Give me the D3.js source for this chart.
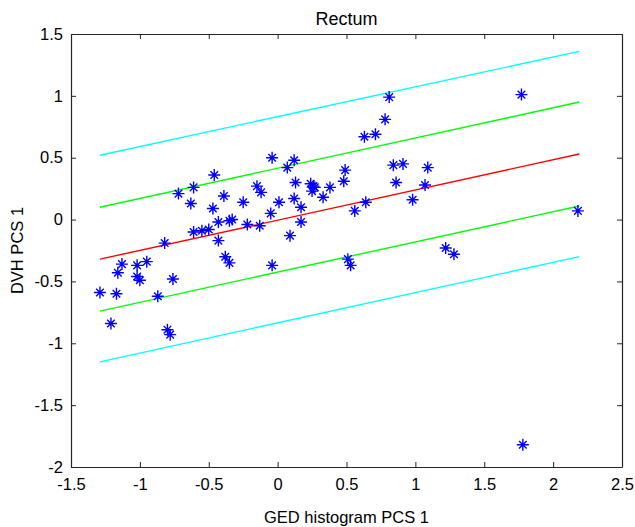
<!DOCTYPE html>
<html>
<head>
<meta charset="utf-8">
<script src="https://cdn.jsdelivr.net/npm/d3@7"></script>
<style>
  html, body { margin: 0; padding: 0; background: #fff; }
  svg { display: block; }
  text { font-family: "Liberation Sans", Arial, Helvetica, sans-serif; fill: #000; }
</style>
</head>
<body>
<svg id="chart" width="635" height="527"></svg>
<script>
// ---- Data ----
const title = "Rectum";
const xLabel = "GED histogram PCS 1";
const yLabel = "DVH PCS 1";
const xTicks = [-1.5, -1, -0.5, 0, 0.5, 1, 1.5, 2, 2.5];
const yTicks = [-2, -1.5, -1, -0.5, 0, 0.5, 1, 1.5];
const xDomain = [-1.5, 2.5];
const yDomain = [-2, 1.5];

const pointsX = [-1.29,-1.21,-1.17,-1.16,-1.13,-1.02,-1.02,-1.00,-0.95,-0.87,-0.82,-0.80,-0.78,-0.76,
  -0.72,-0.63,-0.61,-0.61,-0.55,-0.50,-0.47,-0.46,-0.43,-0.43,-0.39,-0.38,-0.35,-0.35,-0.33,-0.25,
  -0.22,-0.15,-0.12,-0.13,-0.05,-0.04,-0.04,0.01,0.07,0.09,0.12,0.12,0.13,0.17,0.17,0.24,0.26,0.25,
  0.27,0.33,0.38,0.48,0.49,0.51,0.53,0.56,0.63,0.64,0.71,0.78,0.81,0.84,0.86,0.91,0.98,1.07,1.09,
  1.22,1.28,1.77,1.78,2.18];
const pointsY = [-0.59,-0.84,-0.60,-0.43,-0.36,-0.37,-0.46,-0.49,-0.34,-0.62,-0.19,-0.89,-0.93,-0.48,
  0.21,0.13,0.26,-0.10,-0.09,-0.08,0.09,0.36,-0.02,-0.17,0.19,-0.30,-0.35,-0.01,0.00,0.14,
  -0.04,0.27,0.22,-0.05,0.05,0.50,-0.37,0.14,0.42,-0.13,0.48,0.17,0.30,0.10,-0.02,0.29,0.27,0.23,
  0.26,0.18,0.26,0.31,0.40,-0.32,-0.37,0.07,0.67,0.14,0.69,0.81,0.99,0.44,0.30,0.45,0.16,0.28,0.42,
  -0.23,-0.28,1.01,-1.82,0.07];

// fitted line and bands: x range and y values at the two ends
const fitX = [-1.29, 2.19];
const fitLines = [
  { name: "upper2", color: "#00ffff", y: [0.52, 1.36] },
  { name: "upper1", color: "#00ff00", y: [0.10, 0.95] },
  { name: "fit",    color: "#ff0000", y: [-0.32, 0.53] },
  { name: "lower1", color: "#00ff00", y: [-0.74, 0.11] },
  { name: "lower2", color: "#00ffff", y: [-1.15, -0.30] }
];

// ---- Layout ----
const svg = d3.select("#chart");
const L = 71, R = 622, T = 34, B = 467;
const x = d3.scaleLinear().domain(xDomain).range([L, R]);
const y = d3.scaleLinear().domain(yDomain).range([B, T]);

const axisColor = "#262626";
const tickLen = 5;

// axes with inward ticks
const gx = svg.append("g").attr("transform", `translate(0,${B})`)
  .call(d3.axisBottom(x).tickValues(xTicks).tickSizeInner(-tickLen).tickSizeOuter(0).tickPadding(17)
    .tickFormat(d => String(d)));
const gxTop = svg.append("g").attr("transform", `translate(0,${T})`)
  .call(d3.axisTop(x).tickValues(xTicks).tickSizeInner(-tickLen).tickSizeOuter(0).tickFormat(""));
const gy = svg.append("g").attr("transform", `translate(${L},0)`)
  .call(d3.axisLeft(y).tickValues(yTicks).tickSizeInner(-tickLen).tickSizeOuter(0).tickPadding(8)
    .tickFormat(d => String(d)));
const gyR = svg.append("g").attr("transform", `translate(${R},0)`)
  .call(d3.axisRight(y).tickValues(yTicks).tickSizeInner(-tickLen).tickSizeOuter(0).tickFormat(""));

[gx, gxTop, gy, gyR].forEach(g => {
  g.select(".domain").attr("stroke", axisColor).attr("stroke-width", 1.2);
  g.selectAll(".tick line").attr("stroke", axisColor).attr("stroke-width", 1);
  g.selectAll("text").style("font-size", "16.5px").attr("fill", "#000")
    .style("font-family", "'Liberation Sans', Arial, sans-serif");
});
gx.selectAll("text").attr("dy", "0.35em");

// lines
const lineGen = d3.line().x(d => x(d[0])).y(d => y(d[1]));
svg.append("g").selectAll("path").data(fitLines).join("path")
  .attr("d", d => lineGen([[fitX[0], d.y[0]], [fitX[1], d.y[1]]]))
  .attr("stroke", d => d.color).attr("stroke-width", 1.4).attr("fill", "none");

// star markers
const pts = pointsX.map((v, i) => [v, pointsY[i]]);
const a = 6, b = 3.8;
const starPath = `M${-a},0L${a},0M0,${-a}L0,${a}M${-b},${-b}L${b},${b}M${-b},${b}L${b},${-b}`;
svg.append("g").selectAll("path").data(pts).join("path")
  .attr("transform", d => `translate(${x(d[0])},${y(d[1])})`)
  .attr("d", starPath)
  .attr("stroke", "#0000ff").attr("stroke-width", 1.4).attr("fill", "none");

// texts
svg.append("text").attr("x", (L + R) / 2).attr("y", 25).attr("text-anchor", "middle")
  .style("font-size", "18px").text(title);
svg.append("text").attr("x", (L + R) / 2).attr("y", 523).attr("text-anchor", "middle")
  .style("font-size", "16.5px").text(xLabel);
svg.append("text").attr("transform", `translate(23,${(T + B) / 2}) rotate(-90)`)
  .attr("text-anchor", "middle").style("font-size", "16.5px").text(yLabel);
</script>
</body>
</html>
